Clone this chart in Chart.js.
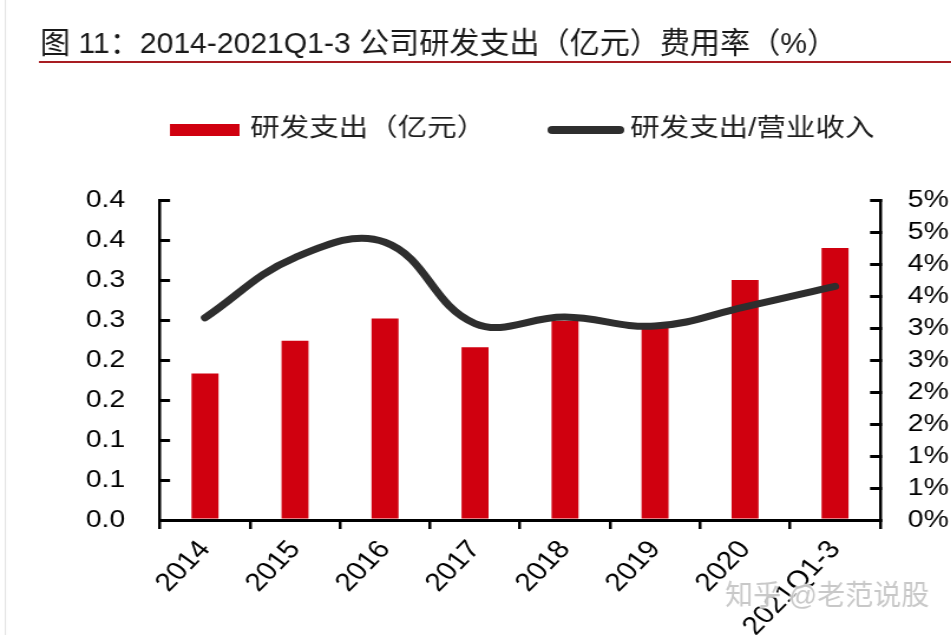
<!DOCTYPE html>
<html>
<head>
<meta charset="utf-8">
<script src="https://cdn.jsdelivr.net/npm/chart.js@4.4.1/dist/chart.umd.min.js"></script>
<style>
html, body { margin: 0; padding: 0; background: #fff; overflow: hidden; }
/* the source picture is stretched sideways, so the chart is drawn narrow and widened */
#wrap { width: 806px; height: 635px; transform: scaleX(1.18); transform-origin: 0 0; }
</style>
</head>
<body>
<div id="wrap"><canvas id="myChart" width="806" height="635"></canvas></div>
<script>
var categories = ['2014', '2015', '2016', '2017', '2018', '2019', '2020', '2021Q1-3'];
var rdSpend = [0.183, 0.224, 0.252, 0.216, 0.249, 0.240, 0.300, 0.340];
var rdRatio = [3.16, 4.10, 4.34, 3.07, 3.17, 3.03, 3.33, 3.65];

var leftMax = 0.4, leftStep = 0.05;
var rightMax = 5, rightStep = 0.5;

var titleText = '图 11：2014-2021Q1-3 公司研发支出（亿元）费用率（%）';
var spendLabel = '研发支出（亿元）';
var ratioLabel = '研发支出/营业收入';
var sourceMark = '知乎 @老范说股';

var stretch = 1.18;
var fam = "'Liberation Sans', 'Noto Sans CJK SC', sans-serif";
Chart.defaults.font.family = fam;
Chart.defaults.color = '#000';

const overlay = {
    id: 'overlay',
    afterDraw(chart) {
        const ctx = chart.ctx;
        const ds = chart.data.datasets;
        ctx.save();
        ctx.textBaseline = 'middle';
        ctx.textAlign = 'left';

        // title (a bit taller than wide in the source) and its rule
        ctx.save();
        ctx.translate(34, 45);
        ctx.scale(1, 1.15);
        ctx.fillStyle = '#1a1a1a';
        ctx.font = '25.5px ' + fam;
        ctx.fillText(titleText, 0, 0);
        ctx.restore();
        ctx.fillStyle = '#a81d22';
        ctx.fillRect(33, 61, chart.width - 33, 2);

        // legend
        ctx.font = '25px ' + fam;
        ctx.fillStyle = ds[0].backgroundColor;
        ctx.fillRect(144, 124, 59, 12);
        ctx.fillStyle = '#1e1e1e';
        ctx.fillText(ds[0].label, 212, 129);
        ctx.strokeStyle = ds[1].borderColor;
        ctx.lineWidth = 8;
        ctx.lineCap = 'round';
        ctx.beginPath();
        ctx.moveTo(468, 130);
        ctx.lineTo(525, 130);
        ctx.stroke();
        ctx.fillText(ds[1].label, 534, 129);

        // unstretched layer: page edge and watermark
        ctx.scale(1 / stretch, 1);
        ctx.fillStyle = '#dcdcdc';
        ctx.fillRect(5, 0, 1, chart.height);
        ctx.font = '28px ' + fam;
        ctx.lineWidth = 3;
        ctx.lineJoin = 'round';
        ctx.strokeStyle = 'rgba(255,255,255,0.8)';
        ctx.strokeText(sourceMark, 725, 597);
        ctx.fillStyle = 'rgba(190,190,190,0.85)';
        ctx.fillText(sourceMark, 725, 597);
        ctx.restore();
    }
};

const ctx = document.getElementById('myChart');

new Chart(ctx, {
    type: 'bar',
    data: {
        labels: categories,
        datasets: [{
            type: 'bar',
            label: spendLabel,
            data: rdSpend,
            backgroundColor: '#d0000f',
            yAxisID: 'y',
            categoryPercentage: 1,
            barPercentage: 0.3,
            order: 1
        }, {
            type: 'line',
            label: ratioLabel,
            data: rdRatio,
            borderColor: '#2e2e2e',
            borderWidth: 7,
            borderCapStyle: 'round',
            pointRadius: 0,
            tension: 0.4,
            yAxisID: 'y1',
            order: 0
        }]
    },
    options: {
        responsive: false,
        animation: false,
        events: [],
        layout: { padding: { top: 200, left: 0, right: 0, bottom: 0 } },
        plugins: {
            legend: { display: false },
            title: { display: false },
            tooltip: { enabled: false }
        },
        scales: {
            x: {
                grid: { drawOnChartArea: false, drawTicks: true, tickLength: 9, color: '#000', lineWidth: 2.5 },
                border: { color: '#000', width: 3 },
                ticks: { autoSkip: false, minRotation: 50, maxRotation: 50, padding: 6, font: { size: 25.5 }, color: '#000' },
                afterFit: function (s) { s.height = 115; }
            },
            y: {
                position: 'left',
                min: 0,
                max: leftMax,
                grid: { drawOnChartArea: false, tickLength: -8.5, color: '#000', lineWidth: 3 },
                border: { color: '#000', width: 2.5 },
                ticks: {
                    stepSize: leftStep,
                    padding: 38,
                    font: { size: 24 },
                    color: '#000',
                    callback: function (v) { return (Math.round(v * 10 + 1e-6) / 10).toFixed(1); }
                },
                afterFit: function (s) { s.width = 135.6; }
            },
            y1: {
                position: 'right',
                min: 0,
                max: rightMax,
                grid: { drawOnChartArea: false, tickLength: -8.5, color: '#000', lineWidth: 3 },
                border: { color: '#000', width: 2.5 },
                ticks: {
                    stepSize: rightStep,
                    padding: 32,
                    font: { size: 24 },
                    color: '#000',
                    callback: function (v) { return Math.round(v + 1e-6) + '%'; }
                },
                afterFit: function (s) { s.width = 60.2; }
            }
        }
    },
    plugins: [overlay]
});
</script>
</body>
</html>
